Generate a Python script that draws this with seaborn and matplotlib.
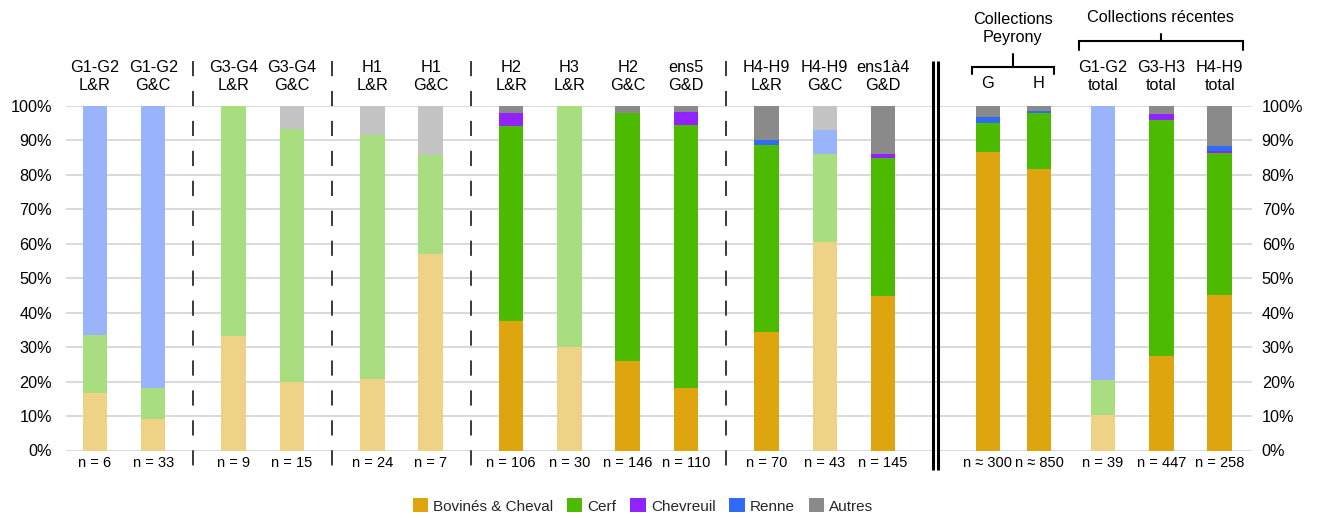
import numpy as np
import pandas as pd
import matplotlib
matplotlib.use("Agg")
import matplotlib.pyplot as plt
import seaborn as sns
from matplotlib.patches import Patch

# ---------------- data ----------------
labels_top = ["G1-G2\nL&R", "G1-G2\nG&C", "G3-G4\nL&R", "G3-G4\nG&C", "H1\nL&R", "H1\nG&C",
              "H2\nL&R", "H3\nL&R", "H2\nG&C", "ens5\nG&D", "H4-H9\nL&R", "H4-H9\nG&C",
              "ens1à4\nG&D", "G", "H", "G1-G2\ntotal", "G3-H3\ntotal", "H4-H9\ntotal"]
n_labels = ["n = 6", "n = 33", "n = 9", "n = 15", "n = 24", "n = 7", "n = 106", "n = 30",
            "n = 146", "n = 110", "n = 70", "n = 43", "n = 145", "n ≈ 300", "n ≈ 850",
            "n = 39", "n = 447", "n = 258"]
n_values = [6, 33, 9, 15, 24, 7, 106, 30, 146, 110, 70, 43, 145, 300, 850, 39, 447, 258]

species = ["Bovinés & Cheval", "Cerf", "Chevreuil", "Renne", "Autres"]
bovines = [16.7, 9.1, 33.3, 20.0, 20.8, 57.1, 37.7, 30.0, 26.0, 18.2, 34.3, 60.5, 44.8, 86.7, 81.7, 10.2, 27.3, 45.0]
cerf = [16.7, 9.1, 66.7, 73.3, 70.9, 28.6, 56.6, 70.0, 71.9, 76.4, 54.3, 25.6, 40.0, 8.4, 16.3, 10.3, 68.7, 41.5]
chevreuil = [0, 0, 0, 0, 0, 0, 3.8, 0, 0, 3.6, 0, 0, 1.4, 0, 0, 0, 1.8, 0.4]
renne = [66.6, 81.8, 0, 0, 0, 0, 0, 0, 0, 0, 1.4, 7.0, 0, 1.7, 0.5, 79.5, 0, 1.6]
autres = [0, 0, 0, 6.7, 8.3, 14.3, 1.9, 0, 2.1, 1.8, 10.0, 6.9, 13.8, 3.2, 1.5, 0, 2.2, 11.5]

color_strong = ["#DFA50E", "#4CBB00", "#9123FF", "#2F6CF6", "#8A8A8A"]
color_pale = ["#EED386", "#A8DE80", "#C891FF", "#99B4FB", "#C4C4C4"]

# ---------------- layout ----------------
group_sizes = [2, 2, 2, 4, 3, 2, 3]
group_gaps = [1.38, 1.38, 1.38, 1.38, 1.8, 1.1]
inner_steps = [1, 1, 1, 1, 1, 0.875, 1]
pos = []
x = 0.0
for g, size in enumerate(group_sizes):
    if g > 0:
        x += group_gaps[g - 1]
    for k in range(size):
        if k > 0:
            x += inner_steps[g]
        pos.append(x)
pos = np.array(pos)
bar_w = 0.42

sns.set_theme(style="white")
plt.rcParams['font.family'] = ['Liberation Sans', 'DejaVu Sans']

W, H = 1320, 518
fig = plt.figure(figsize=(W / 100, H / 100), dpi=100)
ax = fig.add_axes([66 / W, 67.5 / H, (1252 - 66) / W, 344.5 / H])

values = np.array([bovines, cerf, chevreuil, renne, autres])
cum = np.cumsum(values, axis=0)
bar_ids = [f"b{i}" for i in range(len(pos))]

for i in range(len(species) - 1, -1, -1):
    cols = [color_pale[i] if n < 50 else color_strong[i] for n in n_values]
    df = pd.DataFrame({"x": pos, "y": cum[i], "bar": bar_ids})
    sns.barplot(data=df, x="x", y="y", hue="bar", palette=cols, dodge=False,
                native_scale=True, errorbar=None, saturation=1, legend=False,
                linewidth=0, ax=ax)

for p in ax.patches:
    c = p.get_x() + p.get_width() / 2
    p.set_width(bar_w)
    p.set_x(c - bar_w / 2)

ax.set_xlim(pos[0] - 0.497, pos[0] + 19.85)
ax.set_ylim(0, 100)
ax.set_xticks([])
ax.set_xlabel("")
ax.set_ylabel("")
yt = list(range(0, 101, 10))
ax.set_yticks(yt)
ax.set_yticklabels([f"{v}%" for v in yt])
ax.tick_params(axis="y", length=0, pad=10, labelsize=11.7, labelcolor="#000000")
ax.yaxis.grid(True, color="#D9D9D9", linewidth=1.4)
ax.set_axisbelow(True)
for s in ax.spines.values():
    s.set_visible(False)

ax2 = ax.twinx()
ax2.set_ylim(0, 100)
ax2.set_yticks(yt)
ax2.set_yticklabels([f"{v}%" for v in yt])
ax2.tick_params(axis="y", length=0, pad=7, labelsize=11.7, labelcolor="#000000")
for s in ax2.spines.values():
    s.set_visible(False)
ax2.grid(False)

trans = ax.get_xaxis_transform()

def ay(py):
    return (450.5 - py) / 344.5

# top category labels and bottom n labels
for i, (lab, nl) in enumerate(zip(labels_top, n_labels)):
    yy = ay(83) if "\n" not in lab else ay(76.5)
    ax.text(pos[i], yy, lab, transform=trans, ha="center", va="center",
            fontsize=11.7, linespacing=1.17, color="#000000")
    ax.text(pos[i], ay(463), nl, transform=trans, ha="center", va="center",
            fontsize=10.5, color="#000000")

# dashed separators
ends = np.cumsum(group_sizes) - 1
for g in range(4):
    mid = (pos[ends[g]] + pos[ends[g] + 1]) / 2
    ax.plot([mid, mid], [ay(60.7), ay(470)], transform=trans, color="#3A3A3A",
            lw=1.4, dashes=(7.8, 7.6), clip_on=False, solid_capstyle="butt")

# double line
mid = (pos[ends[4]] + pos[ends[4] + 1]) / 2
for off in (-0.036, 0.036):
    ax.plot([mid + off, mid + off], [ay(61), ay(470)], transform=trans,
            color="black", lw=2.2, clip_on=False, solid_capstyle="butt")

# brackets
def bracket(x0, x1, yh, yend, ytop):
    xm = (x0 + x1) / 2
    ax.plot([x0, x0, x1, x1], [ay(yend), ay(yh), ay(yh), ay(yend)], transform=trans,
            color="black", lw=1.5, clip_on=False, solid_joinstyle="miter")
    ax.plot([xm, xm], [ay(yh), ay(ytop)], transform=trans, color="black", lw=1.5,
            clip_on=False)
    return xm

xm1 = bracket(pos[13] - 0.28, pos[14] + 0.255, 66.7, 74, 54)
ax.text(xm1, ay(28.5), "Collections\nPeyrony", transform=trans, ha="center",
        va="center", fontsize=11.7, linespacing=1.3, color="#000000")
xm2 = bracket(pos[15] - 0.415, pos[17] + 0.395, 41, 50, 34)
ax.text(xm2, ay(18), "Collections récentes", transform=trans, ha="center",
        va="center", fontsize=11.7, color="#000000")

handles = [Patch(facecolor=c, edgecolor="none", label=s) for c, s in zip(color_strong, species)]
fig.legend(handles=handles, loc="center", bbox_to_anchor=(643 / W, 1 - 506 / H), ncol=5,
           frameon=False, fontsize=11, handlelength=1.0, handleheight=1.0,
           handletextpad=0.35, columnspacing=0.9, borderaxespad=0)

fig.savefig("out.png", dpi=100)
